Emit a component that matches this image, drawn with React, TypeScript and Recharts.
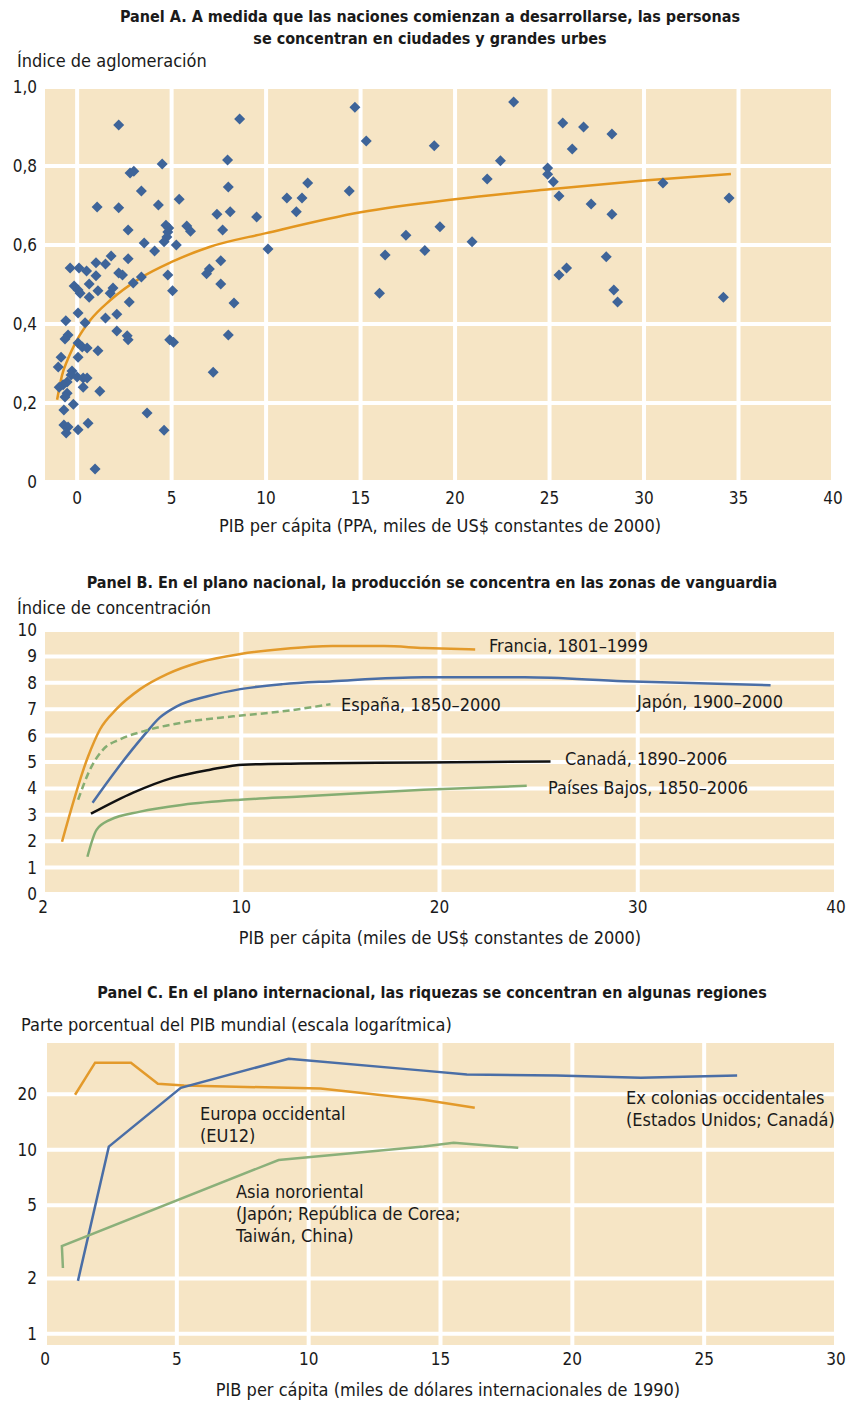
import React from "react";
import { ComposedChart, Line, Scatter, XAxis, YAxis, CartesianGrid } from "recharts";

// Panel A: índice de aglomeración vs PIB per cápita
const aglomPoints: [number, number][] = [
  [2.2,0.904],[8.6,0.919],[14.7,0.949],[15.3,0.863],[18.9,0.851],[23.1,0.962],[25.7,0.909],[26.8,0.899],
  [28.3,0.881],[26.2,0.843],[22.4,0.813],[21.7,0.767],[24.9,0.795],[24.9,0.779],[25.2,0.76],[25.5,0.724],
  [27.2,0.704],[28.3,0.678],[31.0,0.757],[34.5,0.719],[28.0,0.57],[25.9,0.542],[25.5,0.524],[28.4,0.486],
  [28.6,0.456],[34.2,0.468],[20.9,0.608],[19.2,0.646],[18.4,0.586],[17.4,0.625],[16.3,0.575],[16.0,0.478],
  [14.4,0.737],[12.2,0.757],[11.1,0.719],[11.9,0.719],[11.6,0.684],
  [4.5,0.805],[7.96,0.815],[8.0,0.747],[3.4,0.737],[4.3,0.701],[5.4,0.716],[7.4,0.678],[8.1,0.684],
  [9.5,0.671],[4.7,0.65],[4.85,0.643],[4.8,0.633],[4.75,0.62],[4.6,0.608],[5.8,0.648],[6.0,0.635],
  [7.7,0.638],[3.55,0.605],[4.1,0.585],[5.25,0.6],[10.1,0.59],[7.6,0.56],[7.0,0.539],[6.85,0.527],
  [4.8,0.524],[7.6,0.501],[5.05,0.484],[3.4,0.519],[8.3,0.453],[4.9,0.36],[5.1,0.354],[8.0,0.372],
  [7.2,0.278],[4.6,0.131],[3.7,0.175],
  [2.8,0.782],[3.0,0.787],[1.06,0.696],[2.2,0.694],[2.7,0.638],[1.8,0.572],[2.7,0.565],
  [1.0,0.555],[1.5,0.552],[-0.37,0.542],[0.1,0.542],[0.5,0.534],[1.0,0.522],[2.2,0.529],[2.4,0.524],
  [-0.16,0.496],[0.05,0.486],[0.16,0.478],[0.64,0.501],[1.1,0.484],[1.75,0.478],[1.9,0.491],[0.64,0.468],
  [2.97,0.504],[2.76,0.456],[0.05,0.428],[-0.6,0.408],[0.42,0.403],[1.5,0.415],[2.1,0.425],[-0.48,0.372],
  [-0.64,0.362],[2.1,0.382],[2.65,0.37],[2.7,0.36],[0.05,0.352],[0.27,0.342],[0.53,0.339],[1.1,0.332],
  [-0.85,0.316],[-1.0,0.291],[0.05,0.316],[-0.27,0.281],[-0.32,0.271],[0,0.266],[0.32,0.263],[-0.53,0.253],
  [-0.74,0.246],[0.53,0.263],[-0.95,0.24],[0.32,0.24],[1.2,0.23],[-0.53,0.225],[-0.64,0.215],[-0.2,0.197],
  [-0.7,0.182],[-0.7,0.144],[-0.48,0.139],[-0.58,0.124],[0.05,0.132],[0.58,0.149],[0.95,0.033],
];
const aglomTrend: [number, number][] = [
  [-1.06,0.208],[-0.8,0.27],[-0.5,0.31],[0,0.36],[0.7,0.41],[1.75,0.46],[3.3,0.515],[5,0.557],
  [7,0.595],[10,0.63],[15,0.683],[20,0.716],[25,0.741],[30,0.763],[34.6,0.78],
];
const aTicksX = [0, 5, 10, 15, 20, 25, 30, 35, 40];
const aTicksY = [0, 0.2, 0.4, 0.6, 0.8, 1.0];

// Panel B: índice de concentración por país
const francia: [number, number][] = [
  [0.96,1.98],[2.27,5.2],[2.88,6.24],[3.7,7.0],[4.9,7.76],[6.26,8.33],[7.9,8.78],[9.95,9.09],
  [12.1,9.28],[14.6,9.39],[17.2,9.39],[19.2,9.32],[21.8,9.26],
];
const japon: [number, number][] = [
  [2.5,3.46],[3.7,4.7],[5.05,5.97],[5.9,6.69],[6.75,7.11],[8.3,7.49],[9.95,7.76],[12.1,7.95],
  [14.6,8.06],[19.2,8.21],[24.3,8.21],[29.3,8.06],[36.7,7.91],
];
const espana: [number, number][] = [
  [1.77,3.57],[2.37,4.71],[3.03,5.47],[3.89,5.86],[5.05,6.16],[7.07,6.5],[9.6,6.73],[12.1,6.92],[14.5,7.19],
];
const canada: [number, number][] = [
  [2.42,3.04],[4.55,3.84],[6.57,4.41],[8.43,4.71],[10.1,4.9],[13,4.94],[19.2,4.98],[25.6,5.02],
];
const paisesBajos: [number, number][] = [
  [2.24,1.41],[2.7,2.43],[3.38,2.81],[4.9,3.12],[7.07,3.38],[9.95,3.57],[13,3.69],[19.2,3.95],[24.4,4.1],
];
const bTicksX = [0, 10, 20, 30, 40];
const bTickLabels = ["2", "10", "20", "30", "40"];
const bTicksY = [0, 1, 2, 3, 4, 5, 6, 7, 8, 9, 10];

// Panel C: parte porcentual del PIB mundial (log)
const europa: [number, number][] = [
  [1.14,19.9],[1.9,29.7],[3.26,29.7],[4.28,22.8],[5.27,22.3],[9.2,21.7],[10.45,21.5],[14.36,18.7],[16.3,16.9],
];
const exColonias: [number, number][] = [
  [1.25,1.94],[2.42,10.4],[5.15,21.7],[9.24,31.2],[14.36,26.9],[16.0,25.6],[19.4,25.3],[22.6,24.6],[26.25,25.3],
];
const asia: [number, number][] = [
  [0.68,2.28],[0.64,3.0],[8.86,8.8],[14.36,10.4],[15.5,10.9],[17.95,10.25],
];
const cTicksX = [0, 5, 10, 15, 20, 25, 30];
const cTicksY = [1, 2, 5, 10, 20];

const toRows = (pts: [number, number][]) => pts.map(([x, y]) => ({ x, y }));

const FONT = "'Liberation Sans Narrow', 'DejaVu Sans Condensed', Arial, sans-serif";
const BEIGE = "#F6E5C5";
const tick = { fontSize: 17, fill: "#1a1a1a", fontFamily: FONT };

const Diamond = (props: any) => {
  const { cx, cy } = props;
  const r = 5.5;
  return <polygon points={`${cx},${cy - r} ${cx + r},${cy} ${cx},${cy + r} ${cx - r},${cy}`} fill="#3E6499" />;
};

const Text = ({ left, top, children, size = 17, bold = false, center = false, lh = 22 }: any) => (
  <div
    style={{
      position: "absolute",
      left: center ? 0 : left,
      width: center ? 848 : undefined,
      textAlign: center ? "center" : "left",
      top,
      fontFamily: FONT,
      fontSize: size,
      fontWeight: bold ? 700 : 400,
      lineHeight: `${lh}px`,
      color: "#1a1a1a",
      whiteSpace: "pre",
      paddingLeft: center ? left : 0,
      boxSizing: "border-box",
    }}
  >
    {children}
  </div>
);

export default function App() {
  return (
    <div style={{ position: "absolute", left: 0, top: 0, width: 848, height: 1403, background: "#fff", overflow: "hidden" }}>
      {/* Panel A */}
      <Text left={12} top={6} size={16} bold center lh={22}>
        {"Panel A. A medida que las naciones comienzan a desarrollarse, las personas\nse concentran en ciudades y grandes urbes"}
      </Text>
      <Text left={17} top={50} size={18}>Índice de aglomeración</Text>
      <div style={{ position: "absolute", left: 0, top: 0 }}>
        <ComposedChart width={848} height={520} margin={{ top: 87, right: 15, left: 5, bottom: 8 }}>
          <CartesianGrid fill={BEIGE} stroke="#fff" strokeWidth={4} horizontalValues={aTicksY} verticalValues={aTicksX} />
          <XAxis type="number" dataKey="x" domain={[-1.7, 40]} ticks={aTicksX} allowDataOverflow
            axisLine={false} tickLine={false} tickSize={0} tickMargin={10} height={30} tick={tick} />
          <YAxis type="number" dataKey="y" domain={[0, 1]} ticks={aTicksY} axisLine={false} tickLine={false}
            tickSize={0} tickMargin={8} width={40} tick={tick}
            tickFormatter={(v: number) => (v === 0 ? "0" : v.toFixed(1).replace(".", ","))} />
          <Scatter data={toRows(aglomPoints)} dataKey="y" shape={Diamond} isAnimationActive={false} />
          <Line data={toRows(aglomTrend)} dataKey="y" type="monotone" stroke="#E3961F" strokeWidth={2.5}
            dot={false} activeDot={false} isAnimationActive={false} />
        </ComposedChart>
      </div>
      <Text left={32} top={515} size={18} center>PIB per cápita (PPA, miles de US$ constantes de 2000)</Text>

      {/* Panel B */}
      <Text left={16} top={572} size={16} bold center>
        Panel B. En el plano nacional, la producción se concentra en las zonas de vanguardia
      </Text>
      <Text left={17} top={597} size={18}>Índice de concentración</Text>
      <div style={{ position: "absolute", left: 0, top: 600 }}>
        <ComposedChart width={848} height={330} margin={{ top: 30, right: 12, left: 3, bottom: 6 }}>
          <CartesianGrid fill={BEIGE} stroke="#fff" strokeWidth={4} horizontalValues={bTicksY} verticalValues={bTicksX} />
          <XAxis type="number" dataKey="x" domain={[0, 40]} ticks={bTicksX} allowDataOverflow
            axisLine={false} tickLine={false} tickSize={0} tickMargin={7} height={30} tick={tick}
            tickFormatter={(_v: number, i: number) => bTickLabels[i]} />
          <YAxis type="number" dataKey="y" domain={[0, 10]} ticks={bTicksY} axisLine={false} tickLine={false}
            tickSize={0} tickMargin={6} width={40} tick={tick} />
          <Line data={toRows(francia)} dataKey="y" type="monotone" stroke="#E39A2B" strokeWidth={2.5} dot={false} activeDot={false} isAnimationActive={false} />
          <Line data={toRows(japon)} dataKey="y" type="monotone" stroke="#4A6EA6" strokeWidth={2.5} dot={false} activeDot={false} isAnimationActive={false} />
          <Line data={toRows(espana)} dataKey="y" type="monotone" stroke="#85AD72" strokeWidth={2.5} strokeDasharray="7 4" dot={false} activeDot={false} isAnimationActive={false} />
          <Line data={toRows(canada)} dataKey="y" type="monotone" stroke="#111" strokeWidth={2.5} dot={false} activeDot={false} isAnimationActive={false} />
          <Line data={toRows(paisesBajos)} dataKey="y" type="monotone" stroke="#85AD72" strokeWidth={2.5} dot={false} activeDot={false} isAnimationActive={false} />
        </ComposedChart>
      </div>
      <Text left={489} top={635} size={18}>Francia, 1801–1999</Text>
      <Text left={637} top={691} size={18}>Japón, 1900–2000</Text>
      <Text left={341} top={694} size={18}>España, 1850–2000</Text>
      <Text left={565} top={748} size={18}>Canadá, 1890–2006</Text>
      <Text left={548} top={777} size={18}>Países Bajos, 1850–2006</Text>
      <Text left={32} top={927} size={18} center>PIB per cápita (miles de US$ constantes de 2000)</Text>

      {/* Panel C */}
      <Text left={16} top={982} size={16} bold center>
        Panel C. En el plano internacional, las riquezas se concentran en algunas regiones
      </Text>
      <Text left={21} top={1014} size={18}>Parte porcentual del PIB mundial (escala logarítmica)</Text>
      <div style={{ position: "absolute", left: 0, top: 1030 }}>
        <ComposedChart width={848} height={350} margin={{ top: 13, right: 12, left: 5, bottom: 5 }}>
          <CartesianGrid fill={BEIGE} stroke="#fff" strokeWidth={4} horizontalValues={cTicksY} verticalValues={cTicksX} />
          <XAxis type="number" dataKey="x" domain={[0, 30]} ticks={cTicksX} allowDataOverflow
            axisLine={false} tickLine={false} tickSize={0} tickMargin={8} height={30} tick={tick} />
          <YAxis type="number" dataKey="y" scale="log" domain={[0.87, 38]} ticks={cTicksY} allowDataOverflow
            axisLine={false} tickLine={false} tickSize={0} tickMargin={8} width={40} tick={tick} />
          <Line data={toRows(europa)} dataKey="y" type="linear" stroke="#E39A2B" strokeWidth={2.5} dot={false} activeDot={false} isAnimationActive={false} />
          <Line data={toRows(exColonias)} dataKey="y" type="linear" stroke="#4A6EA6" strokeWidth={2.5} dot={false} activeDot={false} isAnimationActive={false} />
          <Line data={toRows(asia)} dataKey="y" type="linear" stroke="#8BB07A" strokeWidth={2.5} dot={false} activeDot={false} isAnimationActive={false} />
        </ComposedChart>
      </div>
      <Text left={200} top={1103} size={18}>{"Europa occidental\n(EU12)"}</Text>
      <Text left={236} top={1181} size={18}>{"Asia nororiental\n(Japón; República de Corea;\nTaiwán, China)"}</Text>
      <Text left={626} top={1087} size={18}>{"Ex colonias occidentales\n(Estados Unidos; Canadá)"}</Text>
      <Text left={48} top={1379} size={18} center>PIB per cápita (miles de dólares internacionales de 1990)</Text>
    </div>
  );
}
